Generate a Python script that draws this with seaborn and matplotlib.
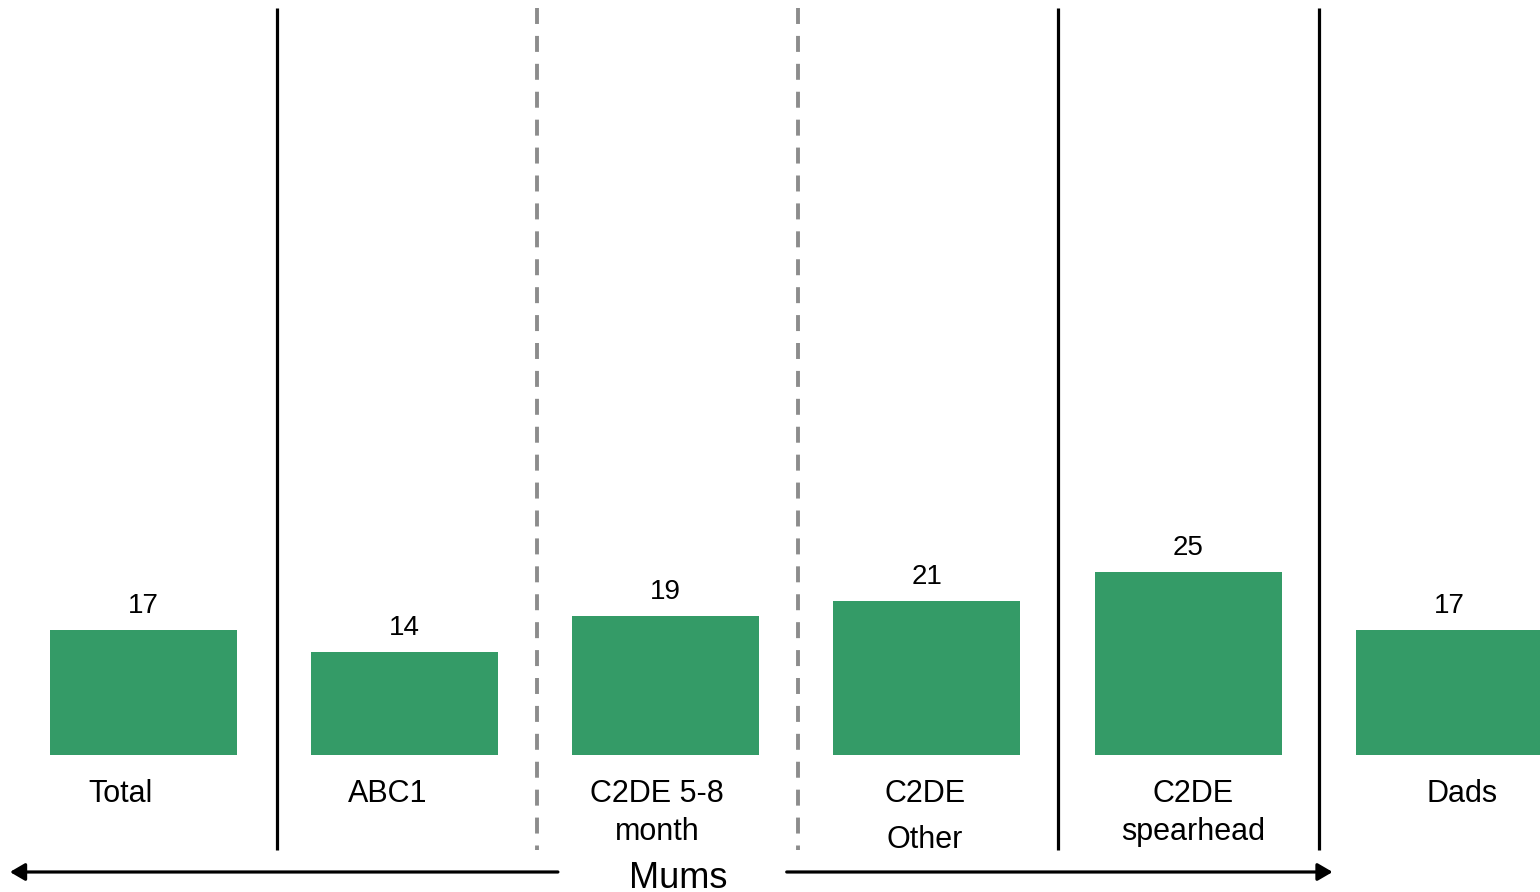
import matplotlib
matplotlib.use("Agg")
import matplotlib.pyplot as plt
import seaborn as sns
import pandas as pd

categories = ["Total", "ABC1", "C2DE 5-8 month", "C2DE Other", "C2DE spearhead", "Dads"]
values = [17, 14, 19, 21, 25, 17]
label_lines = [["Total"], ["ABC1"], ["C2DE 5-8", "month"], ["C2DE", "Other"], ["C2DE", "spearhead"], ["Dads"]]
group_label = "Mums"

sns.set_style("white")
plt.rcParams["font.family"] = ["Liberation Sans", "DejaVu Sans"]
plt.rcParams["text.color"] = "black"

df = pd.DataFrame({"cat": categories, "val": values})

fig = plt.figure(figsize=(15.4, 8.92), dpi=100)
ax = fig.add_axes([0, 0, 1, 1])
sns.barplot(data=df, x="cat", y="val", color="#349B67", saturation=1, width=0.716,
            linewidth=0, edgecolor="none", ax=ax)

ax.set_xlim(-0.549, 5.347)
ax.set_ylim(-18.69, 103.0)
ax.axis("off")

# value labels
for i, v in enumerate(values):
    ax.text(i, v + 3.3, str(v), ha="center", va="center", fontsize=20, color="black")

# category labels below bars (slightly offset like reference)
label_x = [-0.086, 0.936, 1.966, 2.992, 4.018, 5.048]
second_y = [None, None, -10.5, -11.6, -10.5, None]
for i, lines in enumerate(label_lines):
    ax.text(label_x[i], -5.3, lines[0], ha="center", va="center", fontsize=22, color="black")
    if len(lines) > 1:
        ax.text(label_x[i], second_y[i], lines[1], ha="center", va="center", fontsize=22, color="black")

# separators
lw = 2.3
for xpos in [0.511, 3.501, 4.50]:
    ax.plot([xpos, xpos], [101.9, -12.96], color="black", lw=lw, solid_capstyle="butt", clip_on=False)
for xpos in [1.506, 2.505]:
    ax.plot([xpos, xpos], [101.9, -12.96], color="#8c8c8c", lw=2.8,
            linestyle=(0, (11.5 / 2.8, 8.6 / 2.8)), clip_on=False)

# Mums arrows
arrow_kw = dict(arrowstyle="-|>,head_length=0.6,head_width=0.35", color="black", lw=lw,
                shrinkA=0, shrinkB=0, mutation_scale=15)
ax.annotate("", xy=(-0.511, -15.96), xytext=(1.587, -15.96), arrowprops=arrow_kw, annotation_clip=False)
ax.annotate("", xy=(4.553, -15.96), xytext=(2.463, -15.96), arrowprops=arrow_kw, annotation_clip=False)
ax.text(2.047, -16.8, group_label, ha="center", va="center", fontsize=26, color="black")

fig.savefig("out.png", dpi=100)
